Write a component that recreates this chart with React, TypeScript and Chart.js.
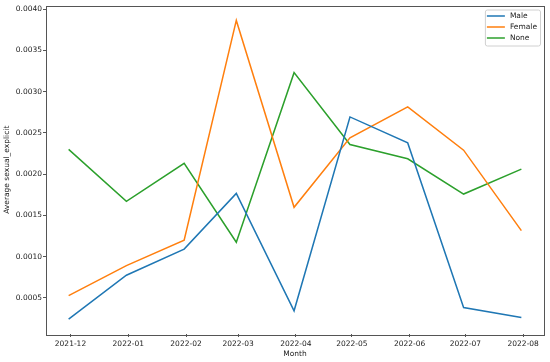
import React, { useEffect, useRef } from 'react';
import { Chart, registerables } from 'chart.js';

Chart.register(...registerables);

// Month-end dates at which the averages were taken
const pointDates = ['2021-11-30', '2021-12-31', '2022-01-31', '2022-02-28', '2022-03-31', '2022-04-30', '2022-05-31', '2022-06-30', '2022-07-31'];
const maleValues = [0.000242, 0.000774, 0.00109, 0.001766, 0.000342, 0.002693, 0.002378, 0.000382, 0.000261];
const femaleValues = [0.000527, 0.00089, 0.001198, 0.003863, 0.001597, 0.00244, 0.002814, 0.00229, 0.001314];
const noneValues = [0.002299, 0.00167, 0.00213, 0.001173, 0.00323, 0.002359, 0.002185, 0.001758, 0.00206];

const tickDates = ['2021-12-01', '2022-01-01', '2022-02-01', '2022-03-01', '2022-04-01', '2022-05-01', '2022-06-01', '2022-07-01', '2022-08-01'];
const tickLabels = ['2021-12', '2022-01', '2022-02', '2022-03', '2022-04', '2022-05', '2022-06', '2022-07', '2022-08'];
const yTickValues = [0.0005, 0.001, 0.0015, 0.002, 0.0025, 0.003, 0.0035, 0.004];

const seriesNames = ['Male', 'Female', 'None'];
const seriesColors = ['#1f77b4', '#ff7f0e', '#2ca02c'];

const DAY = 86400000;
const ORIGIN = Date.UTC(2021, 11, 1);
const toDay = (s: string) => (Date.parse(s + 'T00:00:00Z') - ORIGIN) / DAY;

const FONT = 'DejaVu Sans';
const FS = 7.5;

const frameAndLegend = {
  id: 'frameAndLegend',
  afterDraw(chart: any) {
    const { ctx, chartArea } = chart;
    ctx.save();
    // spines
    ctx.strokeStyle = '#555';
    ctx.lineWidth = 1;
    ctx.strokeRect(Math.round(chartArea.left) + 0.5, Math.round(chartArea.top) + 0.5,
      Math.round(chartArea.right - chartArea.left), Math.round(chartArea.bottom - chartArea.top));
    // legend
    ctx.font = `${FS}px "${FONT}"`;
    const textW = Math.max(...chart.data.datasets.map((d: any) => ctx.measureText(d.label).width));
    const lineLen = 18;
    const rowH = 11;
    const padX = 2;
    const boxW = padX + lineLen + 5 + textW + 3;
    const boxH = rowH * chart.data.datasets.length + 3;
    const bx = chartArea.right - 4 - boxW;
    const by = chartArea.top + 4;
    ctx.fillStyle = 'rgba(255,255,255,0.8)';
    ctx.strokeStyle = '#d0d0d0';
    ctx.beginPath();
    (ctx as any).roundRect(bx + 0.5, by + 0.5, boxW, boxH, 2);
    ctx.fill();
    ctx.stroke();
    chart.data.datasets.forEach((d: any, i: number) => {
      const cy = by + 6 + rowH * i + 0.5;
      ctx.strokeStyle = d.borderColor;
      ctx.lineWidth = 1.5;
      ctx.beginPath();
      ctx.moveTo(bx + padX, cy);
      ctx.lineTo(bx + padX + lineLen, cy);
      ctx.stroke();
      ctx.fillStyle = '#222';
      ctx.textBaseline = 'middle';
      ctx.textAlign = 'left';
      ctx.fillText(d.label, bx + padX + lineLen + 5, cy);
    });
    ctx.restore();
  },
};

export default function App() {
  const ref = useRef<HTMLCanvasElement | null>(null);

  useEffect(() => {
    document.body.style.margin = '0';
    const canvas = ref.current;
    if (!canvas) return;

    const xs = pointDates.map(toDay);
    const allY = [...maleValues, ...femaleValues, ...noneValues];
    const xMinD = Math.min(...xs), xMaxD = Math.max(...xs);
    const yMinD = Math.min(...allY), yMaxD = Math.max(...allY);
    const xm = (xMaxD - xMinD) * 0.05;
    const ym = (yMaxD - yMinD) * 0.05;
    const tickDays = tickDates.map(toDay);

    const seriesValues = [maleValues, femaleValues, noneValues];
    const datasets = seriesNames.map((name, i) => ({
      label: name,
      data: xs.map((x, j) => ({ x, y: seriesValues[i][j] })),
      borderColor: seriesColors[i],
      backgroundColor: seriesColors[i],
      borderWidth: 1.5,
      pointRadius: 0,
      tension: 0,
      fill: false,
    }));

    const chart = new Chart(canvas, {
      type: 'line',
      data: { datasets },
      options: {
        responsive: false,
        animation: false,
        maintainAspectRatio: false,
        layout: { padding: { left: 0, right: 6, top: 5, bottom: 0 } },
        plugins: { legend: { display: false }, tooltip: { enabled: false } },
        scales: {
          x: {
            type: 'linear',
            min: xMinD - xm,
            max: xMaxD + xm,
            afterBuildTicks: (s: any) => { s.ticks = tickDays.map((v) => ({ value: v })); },
            afterFit: (s: any) => { s.height = 28; },
            ticks: {
              autoSkip: false,
              maxRotation: 0,
              padding: 3,
              color: '#222',
              font: { family: FONT, size: FS },
              callback: (v: any) => { const k = tickDays.indexOf(Number(v)); return k >= 0 ? tickLabels[k] : ''; },
            },
            grid: { drawOnChartArea: false, drawTicks: true, tickLength: 3, color: '#555' },
            border: { display: false },
            title: { display: true, text: 'Month', color: '#222', font: { family: FONT, size: FS }, padding: { top: 0, bottom: 3 } },
          },
          y: {
            type: 'linear',
            min: yMinD - ym,
            max: yMaxD + ym,
            afterBuildTicks: (s: any) => { s.ticks = yTickValues.map((v) => ({ value: v })); },
            afterFit: (s: any) => { s.width = 46; },
            ticks: {
              padding: 1,
              color: '#222',
              font: { family: FONT, size: FS },
              callback: (v: any) => Number(v).toFixed(4),
            },
            grid: { drawOnChartArea: false, drawTicks: true, tickLength: 3, color: '#555' },
            border: { display: false },
            title: { display: true, text: 'Average sexual_explicit', color: '#222', font: { family: FONT, size: FS }, padding: { top: 2.5, bottom: 0 } },
          },
        },
      } as any,
      plugins: [frameAndLegend],
    });
    return () => chart.destroy();
  }, []);

  return (
    <div style={{ width: 550, height: 362, background: '#fff' }}>
      <canvas ref={ref} width={550} height={362} style={{ display: 'block' }} />
    </div>
  );
}
